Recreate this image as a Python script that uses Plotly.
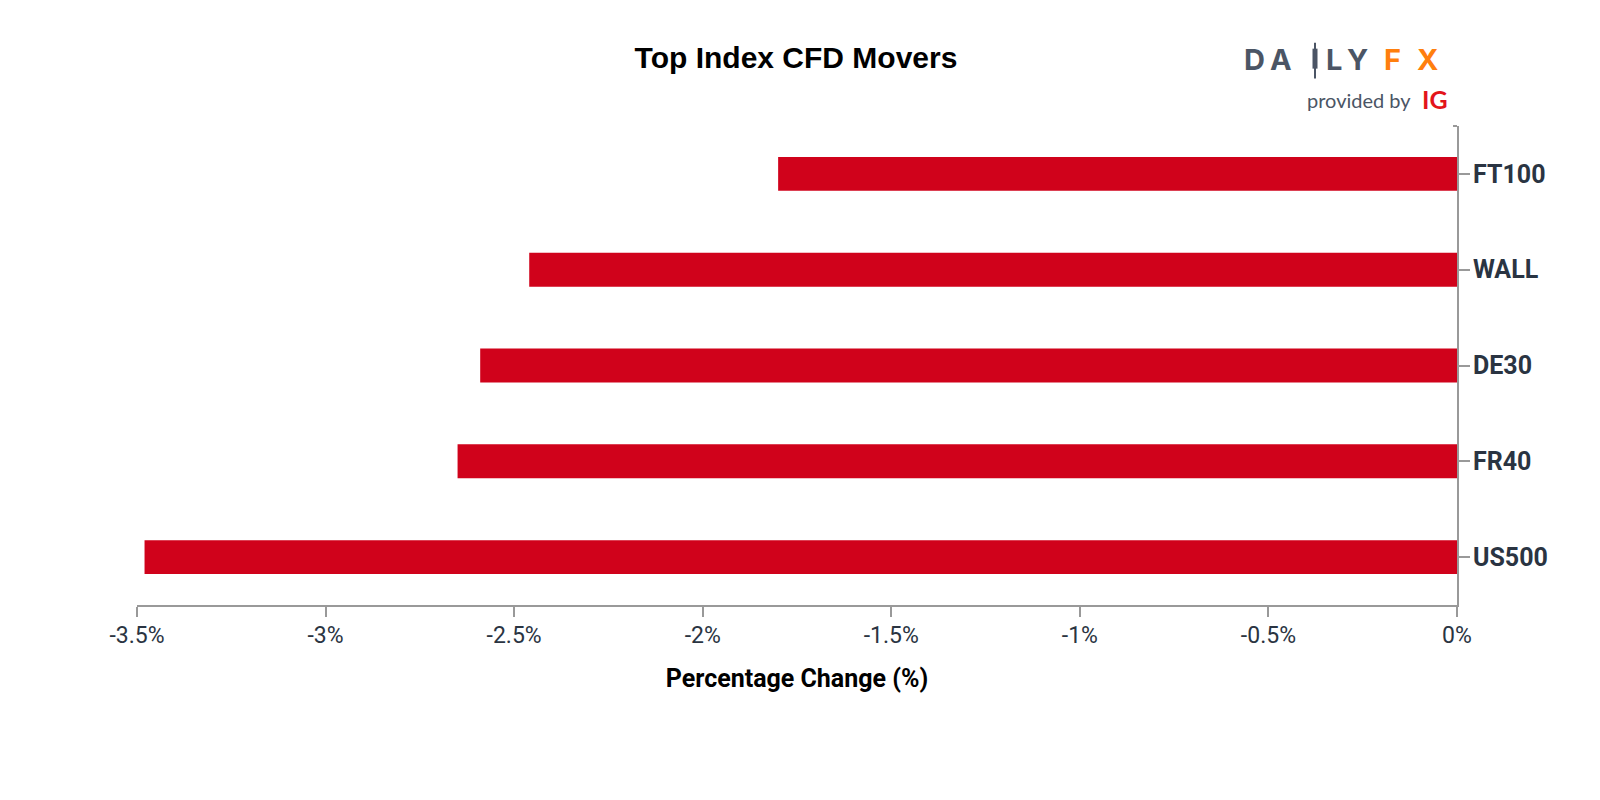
import plotly.graph_objects as go

categories = ["FT100", "WALL", "DE30", "FR40", "US500"]
values = [-1.80, -2.46, -2.59, -2.65, -3.48]
tick_vals = [-3.5, -3.0, -2.5, -2.0, -1.5, -1.0, -0.5, 0.0]
tick_labels = ["-3.5%", "-3%", "-2.5%", "-2%", "-1.5%", "-1%", "-0.5%", "0%"]

BAR = "#d0021b"
TXT = "#2a3442"
AX = "#999999"
FONT = "Roboto"
LOGO = "#4b5565"

# plot area in page pixels (page body adds an 8px offset)
PX0, PX1, PY0, PY1 = 137, 1457, 125.5, 605.5


def px(xp):
    return (xp - PX0) / (PX1 - PX0)


def py(yp):
    return (PY1 - yp) / (PY1 - PY0)


fig = go.Figure(go.Bar(
    x=values, y=categories, orientation="h",
    marker=dict(color=BAR, line=dict(width=0)),
    hoverinfo="x+y",
))

fig.update_layout(
    width=1600, height=800,
    paper_bgcolor="white", plot_bgcolor="white",
    margin=dict(l=PX0 - 8, r=1608 - PX1, t=PY0 - 8, b=808 - PY1),
    bargap=0.646,
    showlegend=False,
    title=dict(text="<b>Top Index CFD Movers</b>", x=788 / 1600, xanchor="center",
               y=1 - 49 / 800, yanchor="middle",
               font=dict(family="Liberation Sans, Arial", size=30, color="#000000")),
    xaxis=dict(
        range=[-3.5, 0], tickvals=tick_vals, ticktext=tick_labels,
        showgrid=False, zeroline=False,
        showline=True, linecolor=AX, linewidth=2,
        ticks="outside", ticklen=10, tickwidth=2, tickcolor=AX,
        ticklabelstandoff=-2,
        tickfont=dict(family=FONT, size=23, color=TXT),
        title=dict(text="<b>Percentage Change (%)</b>", standoff=22,
                   font=dict(family=FONT, size=25, color="#000000")),
        fixedrange=True,
    ),
    yaxis=dict(
        autorange="reversed", side="right",
        showgrid=False, zeroline=False,
        showline=True, linecolor=AX, linewidth=2,
        ticks="outside", ticklen=11, tickwidth=2, tickcolor=AX,
        ticklabelstandoff=-2,
        tickfont=dict(family=FONT, size=25, color=TXT, weight="bold"),
        fixedrange=True,
    ),
)

# small outer tick at top of the y axis
fig.add_shape(type="line", xref="paper", yref="paper", x0=px(1453), x1=1, y0=1, y1=1,
              line=dict(color=AX, width=2))

# DailyFX logo
logo_letters = ["D", "A", "L", "Y", "F", "X"]
logo_x = [1254, 1281, 1334, 1357, 1392, 1427]
logo_colors = [LOGO, LOGO, LOGO, LOGO, "#ff7f0e", "#ff7f0e"]
for ch, xx, cc in zip(logo_letters, logo_x, logo_colors):
    fig.add_annotation(text="<b>" + ch + "</b>", xref="paper", yref="paper",
                       x=px(xx), y=py(59), showarrow=False,
                       xanchor="center", yanchor="middle",
                       font=dict(family="Inter, Lato", size=29, color=cc, weight=800))
# candle-shaped "I"
fig.add_shape(type="line", xref="paper", yref="paper", x0=px(1315), x1=px(1315),
              y0=py(42), y1=py(78), line=dict(color=LOGO, width=2))
fig.add_shape(type="line", xref="paper", yref="paper", x0=px(1315), x1=px(1315),
              y0=py(48), y1=py(68), line=dict(color=LOGO, width=5))
fig.add_annotation(text="provided by", xref="paper", yref="paper",
                   x=px(1413), y=py(99), showarrow=False,
                   xanchor="right", yanchor="middle",
                   font=dict(family="Lato", size=20, color=LOGO))
fig.add_annotation(text="<b>IG</b>", xref="paper", yref="paper",
                   x=px(1420), y=py(98), showarrow=False,
                   xanchor="left", yanchor="middle",
                   font=dict(family="Lato", size=25, color="#e3141b", weight=900))

fig.write_html("out.html")
